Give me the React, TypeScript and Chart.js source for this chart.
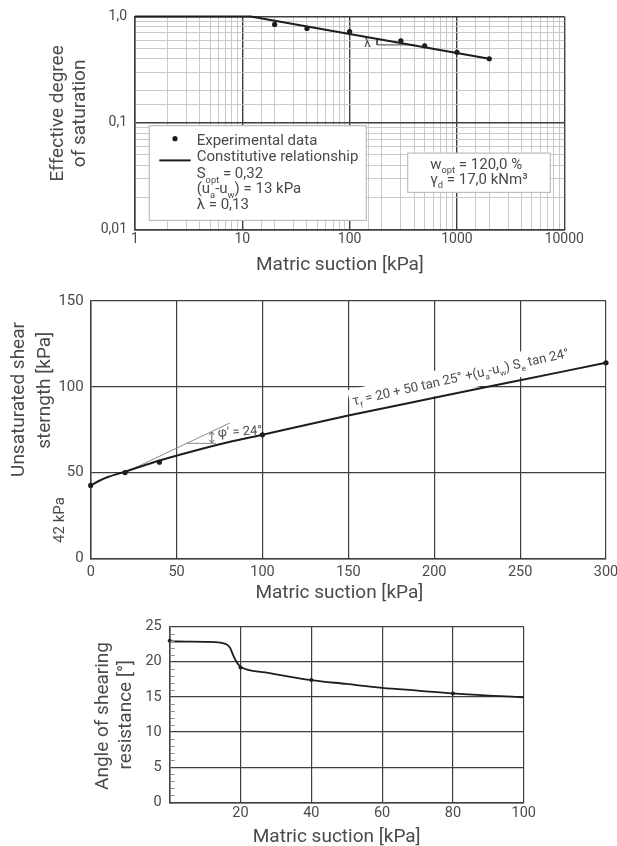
import React, { useEffect, useRef } from 'react';
import { Chart, registerables } from 'chart.js';

Chart.register(...registerables);

const FONT = 'Roboto, "Open Sans", "DejaVu Sans", sans-serif';
const TEXT = '#4a4a4a';
const INK = '#1d1d1d';
const GRID_DARK = '#3f3f3f';
const GRID_LIGHT = '#c4c4c4';

// ---------- Chart 1: effective degree of saturation (log-log) ----------
const satXTicks = [1, 10, 100, 1000, 10000];
const satXLabels = ['1', '10', '100', '1000', '10000'];
const satYTicks = [0.01, 0.1, 1];
const satYLabels = ['0,01', '0,1', '1,0'];
const satExpSuction = [20, 40, 100, 300, 500, 1000, 2000];
const satExpSe = [0.84, 0.77, 0.72, 0.59, 0.53, 0.46, 0.4];
const satFitSuction = [1, 12, 2000];
const satFitSe = [1, 1, 0.4];
const satSlopeSuction = [180, 180, 400];
const satSlopeSe = [0.62, 0.54, 0.54];

// ---------- Chart 2: unsaturated shear strength ----------
const shearXTicks = [0, 50, 100, 150, 200, 250, 300];
const shearXLabels = ['0', '50', '100', '150', '200', '250', '300'];
const shearYTicks = [0, 50, 100, 150];
const shearYLabels = ['0', '50', '100', '150'];
const shearExpSuction = [0, 20, 40, 100, 300];
const shearExpTau = [42.5, 50, 56, 72, 114];
const shearFitSuction = [0, 5, 10, 20, 30, 40, 60, 80, 100, 150, 200, 250, 300];
const shearFitTau = [42.5, 45.2, 47.4, 50.5, 53.8, 57, 62.6, 67.6, 72, 83.2, 93.6, 103.8, 114];
const phiLineSuction = [20, 81];
const phiLineTau = [50, 78.9];
const phiBaseSuction = [56, 73];
const phiBaseTau = [67, 67];

// ---------- Chart 3: angle of shearing resistance ----------
const angleXTicks = [0, 20, 40, 60, 80, 100];
const angleXLabels = ['', '20', '40', '60', '80', '100'];
const angleYTicks = [0, 5, 10, 15, 20, 25];
const angleYLabels = ['0', '5', '10', '15', '20', '25'];
const angleExpSuction = [0, 20, 40, 80];
const angleExpPhi = [23, 19.2, 17.4, 15.5];
const angleFitSuction = [0, 5, 10, 13, 15.5, 17, 17.8, 18.7, 20, 27, 40, 50, 60, 70, 80, 90, 100];
const angleFitPhi = [22.9, 22.88, 22.85, 22.8, 22.6, 22.05, 21.1, 20.15, 19.3, 18.5, 17.4, 16.85, 16.3, 15.9, 15.5, 15.2, 14.95];

type Run = [string, number]; // 0 normal, 1 subscript, 2 superscript

const pts = (xs: number[], ys: number[]) => xs.map((x, i) => ({ x, y: ys[i] }));
const labelFor = (v: number, vals: number[], labs: string[]) => {
  const i = vals.findIndex((t) => Math.abs(t - v) <= Math.abs(t) * 1e-6 + 1e-9);
  return i >= 0 ? labs[i] : '';
};
const isDecade = (v: number) => Math.abs(Math.log10(v) - Math.round(Math.log10(v))) < 1e-6;

function drawRuns(ctx: CanvasRenderingContext2D, runs: Run[], x: number, y: number, size: number, draw = true) {
  let cx = x;
  for (const [t, k] of runs) {
    const s = k ? size * 0.62 : size;
    ctx.font = `${s}px ${FONT}`;
    const dy = k === 1 ? size * 0.3 : k === 2 ? -size * 0.45 : 0;
    if (draw) ctx.fillText(t, cx, y + dy);
    cx += ctx.measureText(t).width;
  }
  return cx - x;
}

function vText(ctx: CanvasRenderingContext2D, text: string, x: number, y: number, size: number, color = TEXT) {
  ctx.save();
  ctx.translate(x, y);
  ctx.rotate(-Math.PI / 2);
  ctx.font = `${size}px ${FONT}`;
  ctx.fillStyle = color;
  ctx.textAlign = 'center';
  ctx.textBaseline = 'middle';
  ctx.fillText(text, 0, 0);
  ctx.restore();
}

function hText(ctx: CanvasRenderingContext2D, text: string, x: number, y: number, size: number, color = TEXT) {
  ctx.save();
  ctx.font = `${size}px ${FONT}`;
  ctx.fillStyle = color;
  ctx.textAlign = 'center';
  ctx.textBaseline = 'middle';
  ctx.fillText(text, x, y);
  ctx.restore();
}

function baseOptions(right: number, top: number) {
  return {
    responsive: true,
    maintainAspectRatio: false,
    animation: false as const,
    events: [] as any[],
    layout: { padding: { left: 0, bottom: 0, right, top } },
    plugins: { legend: { display: false }, tooltip: { enabled: false } },
  };
}

function linAxis(min: number, max: number, step: number, vals: number[], labs: string[], size: number, pad: number, extent: number, horizontal: boolean) {
  return {
    type: 'linear',
    min,
    max,
    afterFit: (s: any) => {
      if (horizontal) s.height = extent;
      else s.width = extent;
    },
    border: { color: GRID_DARK, width: 1.5 },
    grid: { drawTicks: false, color: GRID_DARK, lineWidth: 1.2 },
    ticks: {
      stepSize: step,
      autoSkip: false,
      maxRotation: 0,
      padding: pad,
      color: TEXT,
      font: { family: FONT, size },
      callback: (v: number) => labelFor(v, vals, labs),
    },
  };
}

const satPlugin = {
  id: 'satDecor',
  afterDraw(chart: any) {
    const { ctx, chartArea: ca, scales } = chart;
    const cx = (ca.left + ca.right) / 2;
    vText(ctx, 'Effective degree', ca.left - 77, ca.top + 97, 19);
    vText(ctx, 'of saturation', ca.left - 54.3, ca.top + 97, 19);
    hText(ctx, 'Matric suction [kPa]', cx - 9.7, ca.bottom + 36.4, 19);

    ctx.save();
    ctx.fillStyle = '#444';
    ctx.font = `12px ${FONT}`;
    ctx.textAlign = 'center';
    ctx.textBaseline = 'middle';
    ctx.fillText('λ', scales.x.getPixelForValue(147), scales.y.getPixelForValue(0.551));

    // legend box
    const bx = ca.left + 14.3, by = ca.top + 109.3, bw = 217, bh = 94.7;
    ctx.fillStyle = '#fff';
    ctx.fillRect(bx, by, bw, bh);
    ctx.strokeStyle = '#bdbdbd';
    ctx.lineWidth = 1.2;
    ctx.strokeRect(bx, by, bw, bh);
    ctx.fillStyle = INK;
    ctx.beginPath();
    ctx.arc(bx + 25.7, by + 13, 2.6, 0, Math.PI * 2);
    ctx.fill();
    ctx.strokeStyle = INK;
    ctx.lineWidth = 2;
    ctx.beginPath();
    ctx.moveTo(bx + 10, by + 34.7);
    ctx.lineTo(bx + 41.4, by + 34.7);
    ctx.stroke();
    ctx.fillStyle = TEXT;
    ctx.textAlign = 'left';
    ctx.textBaseline = 'alphabetic';
    const tx = bx + 47.4;
    drawRuns(ctx, [['Experimental data', 0]], tx, by + 19.2, 15);
    drawRuns(ctx, [['Constitutive relationship', 0]], tx, by + 35.4, 15);
    drawRuns(ctx, [['S', 0], ['opt', 1], [' = 0,32', 0]], tx, by + 52.4, 15);
    drawRuns(ctx, [['(u', 0], ['a', 1], ['-u', 0], ['w', 1], [') = 13 kPa', 0]], tx, by + 67.4, 15);
    drawRuns(ctx, [['λ = 0,13', 0]], tx, by + 83, 15);

    // soil properties box
    const rx = ca.left + 272.7, ry = ca.top + 136.7, rw = 142.6, rh = 39.3;
    ctx.fillStyle = '#fff';
    ctx.fillRect(rx, ry, rw, rh);
    ctx.strokeStyle = '#bdbdbd';
    ctx.lineWidth = 1.2;
    ctx.strokeRect(rx, ry, rw, rh);
    ctx.fillStyle = TEXT;
    drawRuns(ctx, [['w', 0], ['opt', 1], [' = 120,0 %', 0]], rx + 22.6, ry + 15.5, 15);
    drawRuns(ctx, [['γ', 0], ['d', 1], [' = 17,0 kNm³', 0]], rx + 22.6, ry + 30.5, 15);
    ctx.restore();
  },
};

const eqRuns: Run[] = [
  ['τ', 0], ['f', 1], [' = 20 + 50 tan 25° +(u', 0], ['a', 1], ['-u', 0], ['w', 1], [') S', 0], ['e', 1], [' tan 24°', 0],
];
const EQ_SIZE = 13.2;

function eqGeom(chart: any) {
  const sx = chart.scales.x, sy = chart.scales.y;
  const i1 = shearFitSuction.indexOf(150), i2 = shearFitSuction.indexOf(300);
  const ang = Math.atan2(
    sy.getPixelForValue(shearFitTau[i2]) - sy.getPixelForValue(shearFitTau[i1]),
    sx.getPixelForValue(shearFitSuction[i2]) - sx.getPixelForValue(shearFitSuction[i1])
  ) - 0.018;
  return { x: sx.getPixelForValue(153), y: sy.getPixelForValue(89.2), ang };
}

const shearPlugin = {
  id: 'shearDecor',
  beforeDatasetsDraw(chart: any) {
    const { ctx } = chart;
    const g = eqGeom(chart);
    ctx.save();
    ctx.translate(g.x, g.y);
    ctx.rotate(g.ang);
    const w = drawRuns(ctx, eqRuns, 0, 0, EQ_SIZE, false);
    ctx.fillStyle = '#fff';
    ctx.fillRect(-3, -16, w + 8, 25);
    ctx.restore();
  },
  afterDraw(chart: any) {
    const { ctx, chartArea: ca, scales } = chart;
    const sx = scales.x, sy = scales.y;
    const cx = (ca.left + ca.right) / 2;
    vText(ctx, 'Unsaturated shear', ca.left - 71, ca.top + 98.5, 19);
    vText(ctx, 'sterngth [kPa]', ca.left - 45.7, ca.top + 89.3, 19);
    vText(ctx, '42 kPa', ca.left - 30.7, sy.getPixelForValue(22.3), 15);
    hText(ctx, 'Matric suction [kPa]', cx - 9, ca.bottom + 35, 19);

    // equation along the curve
    const g = eqGeom(chart);
    ctx.save();
    ctx.translate(g.x, g.y);
    ctx.rotate(g.ang);
    ctx.fillStyle = TEXT;
    ctx.textAlign = 'left';
    ctx.textBaseline = 'alphabetic';
    drawRuns(ctx, eqRuns, 0, 0, EQ_SIZE);
    ctx.restore();

    // angle arrow
    const ax = sx.getPixelForValue(70.5);
    const a1 = sy.getPixelForValue(67.3), a2 = sy.getPixelForValue(73.6);
    ctx.save();
    ctx.strokeStyle = '#555';
    ctx.lineWidth = 0.9;
    ctx.beginPath();
    ctx.moveTo(ax, a1);
    ctx.lineTo(ax, a2);
    ctx.moveTo(ax - 2.5, a2 + 3);
    ctx.lineTo(ax, a2);
    ctx.lineTo(ax + 2.5, a2 + 3);
    ctx.moveTo(ax - 2.5, a1 - 3);
    ctx.lineTo(ax, a1);
    ctx.lineTo(ax + 2.5, a1 - 3);
    ctx.stroke();
    ctx.translate(sx.getPixelForValue(74), sy.getPixelForValue(72.7));
    ctx.rotate(-0.06);
    ctx.fillStyle = TEXT;
    ctx.font = `13px ${FONT}`;
    ctx.textAlign = 'left';
    ctx.textBaseline = 'middle';
    ctx.fillText('φ′ = 24°', 0, 0);
    ctx.restore();
  },
};

const anglePlugin = {
  id: 'angleDecor',
  afterDraw(chart: any) {
    const { ctx, chartArea: ca, scales } = chart;
    const cx = (ca.left + ca.right) / 2;
    vText(ctx, 'Angle of shearing', ca.left - 66.4, ca.top + 89.3, 19);
    vText(ctx, 'resistance [°]', ca.left - 43.9, ca.top + 88, 19);
    hText(ctx, 'Matric suction [kPa]', cx - 10, ca.bottom + 35, 19);
    ctx.save();
    ctx.strokeStyle = '#8a8a8a';
    ctx.lineWidth = 1;
    ctx.beginPath();
    for (let v = 1; v < 25; v++) {
      if (v % 5 === 0) continue;
      const y = Math.round(scales.y.getPixelForValue(v)) + 0.5;
      ctx.moveTo(ca.left, y);
      ctx.lineTo(ca.left + 5, y);
    }
    ctx.stroke();
    ctx.restore();
  },
};

export default function App() {
  const r1 = useRef<HTMLCanvasElement>(null);
  const r2 = useRef<HTMLCanvasElement>(null);
  const r3 = useRef<HTMLCanvasElement>(null);

  useEffect(() => {
    const charts: Chart[] = [];

    charts.push(
      new Chart(r1.current as HTMLCanvasElement, {
        type: 'scatter',
        data: {
          datasets: [
            { data: pts(satExpSuction, satExpSe), pointRadius: 2.6, pointBackgroundColor: INK, pointBorderColor: INK, pointBorderWidth: 0, showLine: false, clip: false } as any,
            { data: pts(satFitSuction, satFitSe), showLine: true, borderColor: INK, borderWidth: 2, pointRadius: 0, clip: false } as any,
            { data: pts(satSlopeSuction, satSlopeSe), showLine: true, borderColor: '#444', borderWidth: 1, pointRadius: 0 } as any,
          ],
        },
        options: {
          ...baseOptions(95.7, 15),
          scales: {
            x: {
              type: 'logarithmic',
              min: 1,
              max: 10000,
              afterFit: (s: any) => { s.height = 55.7; },
              border: { color: GRID_DARK, width: 1.5 },
              grid: {
                drawTicks: false,
                color: (c: any) => (c.tick && isDecade(c.tick.value) ? GRID_DARK : GRID_LIGHT),
                lineWidth: (c: any) => (c.tick && isDecade(c.tick.value) ? 1.4 : 0.9),
              },
              ticks: {
                autoSkip: false,
                maxRotation: 0,
                padding: 2,
                color: TEXT,
                font: { family: FONT, size: 14 },
                callback: (v: number) => labelFor(v, satXTicks, satXLabels),
              },
            },
            y: {
              type: 'logarithmic',
              min: 0.01,
              max: 1,
              afterFit: (s: any) => { s.width = 135; },
              border: { color: GRID_DARK, width: 1.5 },
              grid: {
                drawTicks: false,
                color: (c: any) => (c.tick && isDecade(c.tick.value) ? GRID_DARK : GRID_LIGHT),
                lineWidth: (c: any) => (c.tick && isDecade(c.tick.value) ? 1.4 : 0.9),
              },
              ticks: {
                autoSkip: false,
                padding: 8,
                color: TEXT,
                font: { family: FONT, size: 14 },
                callback: (v: number) => labelFor(v, satYTicks, satYLabels),
              },
            },
          } as any,
        } as any,
        plugins: [satPlugin],
      })
    );

    charts.push(
      new Chart(r2.current as HTMLCanvasElement, {
        type: 'scatter',
        data: {
          datasets: [
            { data: pts(shearExpSuction, shearExpTau), pointRadius: 2.6, pointBackgroundColor: INK, pointBorderColor: INK, pointBorderWidth: 0, showLine: false, clip: false } as any,
            { data: pts(shearFitSuction, shearFitTau), showLine: true, borderColor: INK, borderWidth: 2, pointRadius: 0, cubicInterpolationMode: 'monotone', clip: false } as any,
            { data: pts(phiLineSuction, phiLineTau), showLine: true, borderColor: '#8a8a8a', borderWidth: 1, pointRadius: 0 } as any,
            { data: pts(phiBaseSuction, phiBaseTau), showLine: true, borderColor: '#8a8a8a', borderWidth: 1, pointRadius: 0 } as any,
          ],
        },
        options: {
          ...baseOptions(54, 15.7),
          scales: {
            x: linAxis(0, 300, 50, shearXTicks, shearXLabels, 14.5, 5, 51.7, true),
            y: linAxis(0, 150, 50, shearYTicks, shearYLabels, 15, 7, 90.7, false),
          } as any,
        } as any,
        plugins: [shearPlugin],
      })
    );

    charts.push(
      new Chart(r3.current as HTMLCanvasElement, {
        type: 'scatter',
        data: {
          datasets: [
            { data: pts(angleExpSuction, angleExpPhi), pointRadius: 2, pointBackgroundColor: INK, pointBorderColor: INK, pointBorderWidth: 0, showLine: false, clip: false } as any,
            { data: pts(angleFitSuction, angleFitPhi), showLine: true, borderColor: INK, borderWidth: 1.8, pointRadius: 0, cubicInterpolationMode: 'monotone', clip: false } as any,
          ],
        },
        options: {
          ...baseOptions(136.3, 15.7),
          scales: {
            x: linAxis(0, 100, 20, angleXTicks, angleXLabels, 14.5, 2, 43.7, true),
            y: linAxis(0, 25, 5, angleYTicks, angleYLabels, 14.5, 8, 169.7, false),
          } as any,
        } as any,
        plugins: [anglePlugin],
      })
    );

    return () => charts.forEach((c) => c.destroy());
  }, []);

  const wrap = (top: number, height: number): React.CSSProperties => ({
    position: 'absolute',
    left: 0,
    top,
    width: 660,
    height,
  });

  return (
    <div style={{ position: 'absolute', left: 0, top: 0, width: 617, height: 846, overflow: 'hidden', background: '#fff' }}>
      <div style={wrap(0, 285)}>
        <canvas ref={r1} />
      </div>
      <div style={wrap(285, 325)}>
        <canvas ref={r2} />
      </div>
      <div style={wrap(610, 236)}>
        <canvas ref={r3} />
      </div>
    </div>
  );
}
